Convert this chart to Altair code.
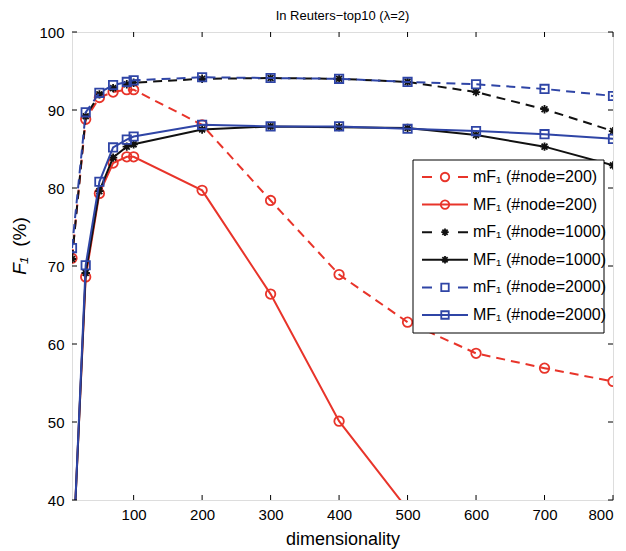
import altair as alt
import pandas as pd

# ---------------- data ----------------
dims = [10, 30, 50, 70, 90, 100, 200, 300, 400, 500, 600, 700, 800]
mF1_200 = [71.0, 88.8, 91.6, 92.3, 92.6, 92.6, 88.1, 78.4, 68.9, 62.8, 58.8, 56.9, 55.2]
MF1_200 = [30.4, 68.6, 79.3, 83.2, 84.0, 84.0, 79.7, 66.4, 50.1, 38.8, None, None, None]
mF1_1000 = [70.9, 89.2, 92.0, 92.8, 93.3, 93.5, 94.0, 94.1, 94.0, 93.6, 92.3, 90.1, 87.3]
MF1_1000 = [30.0, 69.1, 79.6, 83.9, 85.3, 85.6, 87.5, 87.9, 87.8, 87.7, 86.8, 85.3, 82.9]
mF1_2000 = [72.3, 89.7, 92.2, 93.2, 93.6, 93.8, 94.2, 94.1, 94.0, 93.6, 93.3, 92.7, 91.8]
MF1_2000 = [29.9, 70.1, 80.8, 85.2, 86.2, 86.6, 88.1, 87.9, 87.9, 87.6, 87.3, 86.9, 86.3]

labels = ["mF\u2081 (#node=200)", "MF\u2081 (#node=200)",
          "mF\u2081 (#node=1000)", "MF\u2081 (#node=1000)",
          "mF\u2081 (#node=2000)", "MF\u2081 (#node=2000)"]
x_ticks = [100, 200, 300, 400, 500, 600, 700, 800]
y_ticks = [40, 50, 60, 70, 80, 90, 100]

RED = "#e8342a"
BLACK = "#111111"
BLUE = "#2f45a6"
STAR = "M-1,0L1,0M0,-1L0,1M-0.7,-0.7L0.7,0.7M-0.7,0.7L0.7,-0.7"
FONT = "Liberation Sans"

series = [
    (mF1_200, RED, True, "circle", 90),
    (MF1_200, RED, False, "circle", 90),
    (mF1_1000, BLACK, True, STAR, 70),
    (MF1_1000, BLACK, False, STAR, 70),
    (mF1_2000, BLUE, True, "square", 70),
    (MF1_2000, BLUE, False, "square", 70),
]

W, H = 541, 468
xscale = alt.Scale(domain=[10, 800], nice=False, zero=False)
yscale = alt.Scale(domain=[40, 100], nice=False, zero=False)
xenc = alt.X("d:Q", scale=xscale,
             axis=alt.Axis(values=x_ticks, title="dimensionality", grid=False,
                           ticks=False, domain=False, labelFontSize=15,
                           titleFontSize=18, titleFontWeight="normal",
                           labelPadding=7, titlePadding=8, labelColor="black",
                           titleColor="black", labelFont=FONT, titleFont=FONT))
yenc = alt.Y("v:Q", scale=yscale,
             axis=alt.Axis(values=y_ticks, title=None, grid=False, ticks=False,
                           domain=False, labelFontSize=15, labelPadding=8,
                           labelColor="black", labelFont=FONT))

layers = []
for vals, col, dashed, shape, size in series:
    df = pd.DataFrame({"d": dims, "v": vals}).dropna()
    base = alt.Chart(df)
    lkw = dict(color=col, strokeWidth=2, clip=True)
    if dashed:
        lkw["strokeDash"] = [9, 6]
    layers.append(base.mark_line(**lkw).encode(x=xenc, y=yenc))
    layers.append(base.mark_point(shape=shape, filled=False, size=size,
                                  strokeWidth=1.8, color=col, opacity=1,
                                  clip=True).encode(x=xenc, y=yenc))

# inward ticks (MATLAB box style)
xt = alt.Chart(pd.DataFrame({"d": x_ticks}))
yt = alt.Chart(pd.DataFrame({"v": y_ticks}))
layers.append(xt.mark_rule(color="black", strokeWidth=1).encode(
    x=alt.X("d:Q", scale=xscale), y=alt.value(H), y2=alt.value(H - 5)))
layers.append(xt.mark_rule(color="black", strokeWidth=1).encode(
    x=alt.X("d:Q", scale=xscale), y=alt.value(0), y2=alt.value(5)))
layers.append(yt.mark_rule(color="black", strokeWidth=1).encode(
    y=alt.Y("v:Q", scale=yscale), x=alt.value(0), x2=alt.value(5)))
layers.append(yt.mark_rule(color="black", strokeWidth=1).encode(
    y=alt.Y("v:Q", scale=yscale), x=alt.value(W), x2=alt.value(W - 5)))

# legend box
one = pd.DataFrame({"a": [0]})
layers.append(alt.Chart(one).mark_rect(fill="white", stroke="black",
                                       strokeWidth=1).encode(
    x=alt.value(341), x2=alt.value(532), y=alt.value(128), y2=alt.value(301)))
for i, ((vals, col, dashed, shape, size), lab) in enumerate(zip(series, labels)):
    ry = 145 + i * 27.6
    rk = dict(color=col, strokeWidth=2)
    if dashed:
        rk["strokeDash"] = [10, 26]
    layers.append(alt.Chart(one).mark_rule(**rk).encode(
        x=alt.value(350), x2=alt.value(396), y=alt.value(ry)))
    layers.append(alt.Chart(one).mark_point(shape=shape, filled=False,
                                            size=size * 0.8, strokeWidth=1.8,
                                            color=col, opacity=1).encode(
        x=alt.value(373), y=alt.value(ry)))
    layers.append(alt.Chart(pd.DataFrame({"t": [lab]})).mark_text(
        align="left", baseline="middle", fontSize=16, font=FONT,
        color="black").encode(text="t:N", x=alt.value(401), y=alt.value(ry)))

# y-axis title: italic F1 and "(%)"
layers.append(alt.Chart(pd.DataFrame({"t": ["F\u2081"]})).mark_text(
    angle=270, align="center", baseline="alphabetic", fontSize=19,
    fontStyle="italic", font=FONT, color="black").encode(
    text="t:N", x=alt.value(-46), y=alt.value(234)))
layers.append(alt.Chart(pd.DataFrame({"t": ["(%)"]})).mark_text(
    angle=270, align="center", baseline="alphabetic", fontSize=19,
    font=FONT, color="black").encode(
    text="t:N", x=alt.value(-46), y=alt.value(200)))

chart = alt.layer(*layers).properties(
    width=W, height=H,
    title=alt.TitleParams("In Reuters\u2212top10 (\u03bb=2)", fontSize=13,
                          fontWeight="normal", font=FONT, color="black",
                          offset=2),
    autosize=alt.AutoSizeParams(type="none"),
    padding={"left": 64, "top": 24, "right": 5, "bottom": 50},
).configure_view(stroke="black", strokeWidth=1).configure(background="white")

chart.save("out.html", embed_options={"renderer": "svg", "actions": False})
